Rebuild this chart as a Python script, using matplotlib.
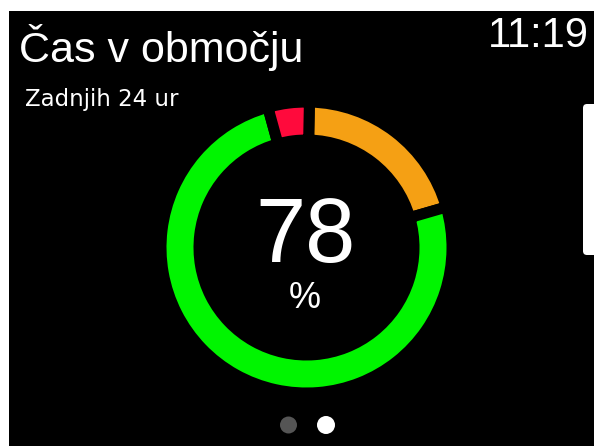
import matplotlib
matplotlib.use("Agg")
import matplotlib.pyplot as plt
from matplotlib.patches import Rectangle, Circle, FancyBboxPatch

# ---- data ----
segment_labels = ["Visoko", "V območju", "Nizko"]
segment_values = [20.2, 75.2, 4.6]          # share of ring arc (%)
segment_colors = ["#F5A014", "#00F500", "#FF0A3C"]
center_value = "78"
title = "Čas v območju"
subtitle = "Zadnjih 24 ur"
clock = "11:19"

W, H = 594, 446
fig = plt.figure(figsize=(W / 100, H / 100), dpi=100, facecolor="white")
ax = fig.add_axes([0, 0, 1, 1])
ax.set_facecolor("white")

def Y(y):  # pixel-from-top -> data
    return H - y

# black screen
ax.add_patch(Rectangle((9, 0), W - 9, H - 11, facecolor="black", edgecolor="none", zorder=0))

# ring
cx, cy = 306.5, Y(247.5)
gap_px = 11
r_out, thick = 140, 27
lw_pt = gap_px * 72 / 100
wedges, _ = ax.pie(segment_values, colors=segment_colors, startangle=90 - 1.15,
                   counterclock=False, center=(cx, cy), radius=r_out + gap_px / 2,
                   wedgeprops=dict(width=thick + gap_px, edgecolor="black",
                                   linewidth=lw_pt, joinstyle="miter"),
                   frame=True)
for w in wedges:
    w.set_zorder(2)

# texts
fam = ["Liberation Sans", "DejaVu Sans"]
ax.text(19, Y(62), title, color="white", fontsize=31, family=fam, va="baseline", ha="left", zorder=3)
ax.text(25, Y(106), subtitle, color="white", fontsize=16.5, family=["DejaVu Sans"],
        va="baseline", ha="left", zorder=3)
ax.text(589, Y(47), clock, color="white", fontsize=30, family=fam, va="baseline", ha="right", zorder=3)
ax.text(305, Y(262), center_value, color="white", fontsize=65, family=fam, va="baseline", ha="center", zorder=3)
ax.text(305, Y(308), "%", color="white", fontsize=26, family=fam, va="baseline", ha="center", zorder=3)

# page dots
ax.add_patch(Circle((288.5, Y(425)), 8.5, facecolor="#555555", edgecolor="none", zorder=3))
ax.add_patch(Circle((326, Y(425)), 9, facecolor="white", edgecolor="none", zorder=3))

# scroll indicator
ax.add_patch(FancyBboxPatch((583, Y(255)), 20, 151, boxstyle="round,pad=0,rounding_size=4",
                            facecolor="white", edgecolor="none", zorder=3))

ax.set_xlim(0, W)
ax.set_ylim(0, H)
ax.set_aspect("auto")
ax.axis("off")
fig.savefig("out.png", dpi=100, facecolor="white")
